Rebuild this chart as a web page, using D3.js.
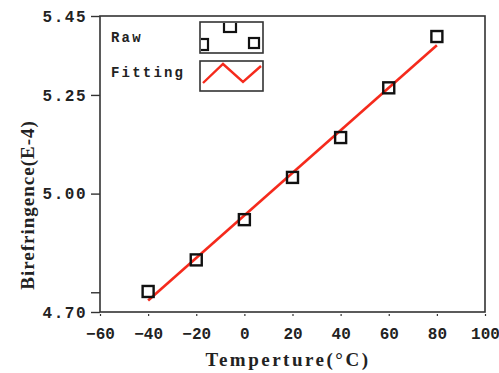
<!DOCTYPE html>
<html>
<head>
<meta charset="utf-8">
<script src="https://cdn.jsdelivr.net/npm/d3@7"></script>
<style>
  body { margin: 0; background: #fff; }
  svg { display: block; }
</style>
</head>
<body>
<div id="chart"></div>
<script>
// Data
const temperature = [-40, -20, 0, 20, 40, 60, 80];
const birefringence = [4.752, 4.832, 4.934, 5.041, 5.142, 5.268, 5.398];
const fitTemperature = [-40, 80];
const fitBirefringence = [4.729, 5.376];
const xTicks = [-60, -40, -20, 0, 20, 40, 60, 80, 100];
const yTicks = [4.70, 4.75, 5.00, 5.25, 5.45];
const legendLabels = ['Raw', 'Fitting'];

const width = 499, height = 373;
const svg = d3.select('#chart').append('svg')
    .attr('width', width)
    .attr('height', height);

const x = d3.scaleLinear().domain([-60, 100]).range([100, 485]);
const y = d3.scaleLinear().domain([4.70, 5.45]).range([312, 16]);

const axisColor = '#333';
const monoFont = '"Liberation Mono", monospace';
const serifFont = '"Liberation Serif", serif';

// Frame
svg.append('rect')
    .attr('x', x(-60)).attr('y', y(5.45))
    .attr('width', x(100) - x(-60)).attr('height', y(4.70) - y(5.45))
    .attr('fill', 'none').attr('stroke', axisColor).attr('stroke-width', 1.6);

// Y axis
const yAxis = svg.append('g')
    .attr('transform', `translate(${x(-60)},0)`)
    .call(d3.axisLeft(y).tickValues(yTicks).tickSize(9).tickPadding(4)
        .tickFormat(d => d === 4.75 ? '' : d.toFixed(2)));
yAxis.select('.domain').remove();
yAxis.selectAll('line').attr('stroke', axisColor).attr('stroke-width', 1.4);
yAxis.selectAll('text')
    .attr('font-family', monoFont).attr('font-weight', 'bold')
    .attr('font-size', 16).attr('letter-spacing', 1.5).attr('fill', '#222');

// X axis
const xAxis = svg.append('g')
    .attr('transform', `translate(0,${y(4.70)})`)
    .call(d3.axisBottom(x).tickValues(xTicks).tickSize(4).tickPadding(12));
xAxis.select('.domain').remove();
xAxis.selectAll('line').attr('stroke', axisColor).attr('stroke-width', 1.2)
    .attr('stroke-dasharray', '0,2,2');
xAxis.selectAll('text')
    .attr('font-family', monoFont).attr('font-weight', 'bold')
    .attr('font-size', 16).attr('fill', '#222');

// Axis titles
svg.append('text')
    .attr('transform', 'translate(34,205) rotate(-90)')
    .attr('text-anchor', 'middle')
    .attr('font-family', serifFont).attr('font-weight', 'bold')
    .attr('font-size', 19).attr('letter-spacing', 1)
    .attr('fill', '#222')
    .text('Birefringence(E-4)');

svg.append('text')
    .attr('x', 288).attr('y', 366)
    .attr('text-anchor', 'middle')
    .attr('font-family', serifFont).attr('font-weight', 'bold')
    .attr('font-size', 19).attr('letter-spacing', 2.5)
    .attr('fill', '#222')
    .text('Temperture(°C)');

// Fitting line
const line = d3.line().x(d => x(d[0])).y(d => y(d[1]));
svg.append('path')
    .datum(d3.zip(fitTemperature, fitBirefringence))
    .attr('d', line)
    .attr('fill', 'none').attr('stroke', '#f52a1c').attr('stroke-width', 2.6);

// Raw markers
const ms = 11;
svg.append('g').selectAll('rect')
    .data(d3.zip(temperature, birefringence))
    .enter().append('rect')
    .attr('x', d => x(d[0]) - ms / 2)
    .attr('y', d => y(d[1]) - ms / 2)
    .attr('width', ms).attr('height', ms)
    .attr('fill', 'none').attr('stroke', '#111').attr('stroke-width', 2.4);

// Legend
const legend = svg.append('g');
legend.selectAll('text')
    .data(legendLabels)
    .enter().append('text')
    .attr('x', 111).attr('y', (d, i) => 42 + i * 35)
    .attr('font-family', monoFont).attr('font-weight', 'bold')
    .attr('font-size', 14).attr('letter-spacing', 2.2).attr('fill', '#222')
    .text(d => d);

const boxes = [{x: 200, y: 22, w: 63, h: 31}, {x: 200, y: 61, w: 63, h: 30}];
legend.selectAll('rect.box')
    .data(boxes)
    .enter().append('rect')
    .attr('class', 'box')
    .attr('x', d => d.x).attr('y', d => d.y)
    .attr('width', d => d.w).attr('height', d => d.h)
    .attr('fill', '#fff').attr('stroke', axisColor).attr('stroke-width', 1.6);

// clipped sample squares inside the Raw box
svg.append('clipPath').attr('id', 'rawClip')
    .append('rect').attr('x', 201).attr('y', 23).attr('width', 61).attr('height', 29);
const sample = [[197, 39, 11], [224, 20, 12], [249, 38, 10]];
legend.append('g').attr('clip-path', 'url(#rawClip)')
    .selectAll('rect')
    .data(sample)
    .enter().append('rect')
    .attr('x', d => d[0]).attr('y', d => d[1])
    .attr('width', d => d[2]).attr('height', d => d[2])
    .attr('fill', 'none').attr('stroke', '#111').attr('stroke-width', 2.2);

legend.append('polyline')
    .attr('points', '203,83 223,64 243,82 261,66')
    .attr('fill', 'none').attr('stroke', '#f52a1c').attr('stroke-width', 2.4);
</script>
</body>
</html>
